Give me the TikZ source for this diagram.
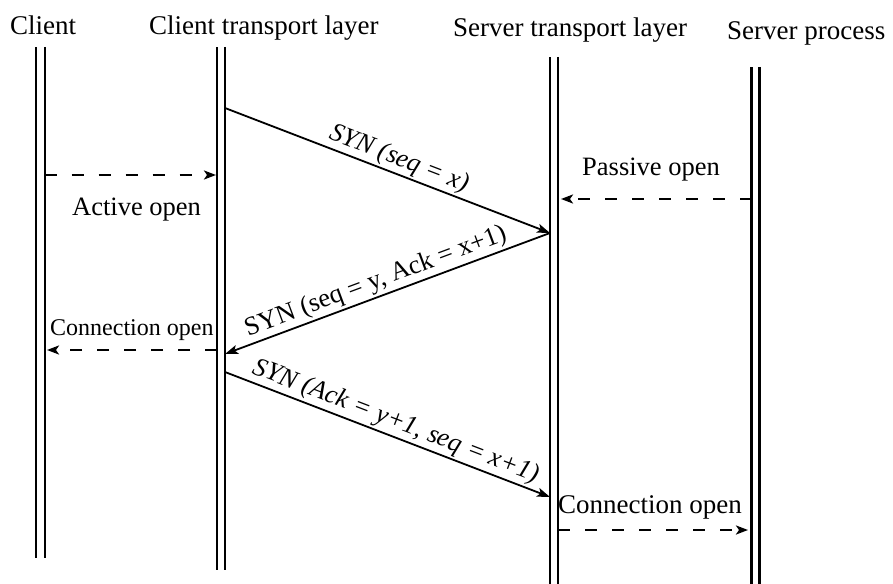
\documentclass[tikz,border=0pt]{standalone}
\usepackage{fontspec}
\setmainfont{Liberation Serif}
\usetikzlibrary{arrows.meta}
\begin{document}
\begin{tikzpicture}[x=1pt,y=-1pt,
  head/.style={font=\fontsize{27}{30}\selectfont, inner sep=0pt, anchor=base west},
  note/.style={font=\fontsize{26.5}{30}\selectfont, inner sep=0pt, anchor=base west},
  lifeline/.style={double, double distance=5.4pt, line width=2.6pt},
  msg/.style={line width=1.8pt, -{Stealth[length=13pt,width=9pt,inset=3pt]}},
  local/.style={line width=2.2pt, dash pattern=on 12pt off 15pt,
                -{Stealth[length=12pt,width=9pt,inset=3pt]}},
  lbl/.style={sloped, above, inner sep=2pt, font=\fontsize{26.3}{30}\selectfont}
]
\useasboundingbox (0,0) rectangle (893,583);

% column headings
\node[head] (hC)  at (10,35)  {Client};
\node[head] (hCT) at (149,35) {Client transport layer};
\node[head] (hST) at (453,37) {Server transport layer};
\node[head] (hSP) at (727,40) {Server process};

% lifeline ends
\coordinate (cT)  at (40.5,47);  \coordinate (cB)  at (40.5,558);
\coordinate (ctT) at (221,47);   \coordinate (ctB) at (221,570);
\coordinate (stT) at (554,57);   \coordinate (stB) at (554,590);
\coordinate (spT) at (755.5,67); \coordinate (spB) at (755.5,590);

\draw[lifeline, double distance=6.6pt] (cT) -- (cB);
\draw[lifeline] (ctT) -- (ctB);
\draw[lifeline] (stT) -- (stB);
\draw[lifeline] (spT) -- (spB);

% segment exchange between the transport layers
\coordinate (m1a) at (225,108); \coordinate (m1b) at (550,233);
\coordinate (m2b) at (225,354);
\coordinate (m3a) at (225,372); \coordinate (m3b) at (550,497);

\draw[msg] (m1a) -- node[lbl, pos=0.52, font=\fontsize{26.3}{30}\selectfont\itshape] (t1) {SYN (seq = x)} (m1b);
\draw[msg] (m1b) -- node[lbl, pos=0.52] (t2) {SYN (seq = y, Ack = x+1)} (m2b);
\draw[msg] (m3a) -- node[lbl, pos=0.51, font=\fontsize{26.3}{30}\selectfont\itshape] (t3) {SYN (Ack = y+1, seq = x+1)} (m3b);

% local open events
\coordinate (aoS)  at (44.5,175);  \coordinate (aoE)  at (216,175);
\coordinate (poS)  at (751.5,199); \coordinate (poE)  at (561,199);
\coordinate (coS)  at (217,350);   \coordinate (coE)  at (47,350);
\coordinate (co2S) at (558,530);   \coordinate (co2E) at (748,530);

\draw[local] (aoS) -- (aoE);
\draw[local] (poS) -- (poE);
\draw[local] (coS) -- (coE);
\draw[local] (co2S) -- (co2E);

\node[note] (lAO)  at (72,215)  {Active open};
\node[note] (lPO)  at (582,175) {Passive open};
\node[note, font=\fontsize{24}{28}\selectfont] (lCO) at (50,335) {Connection open};
\node[note, font=\fontsize{27}{30}\selectfont] (lCO2) at (558,513) {Connection open};
\end{tikzpicture}
\end{document}
